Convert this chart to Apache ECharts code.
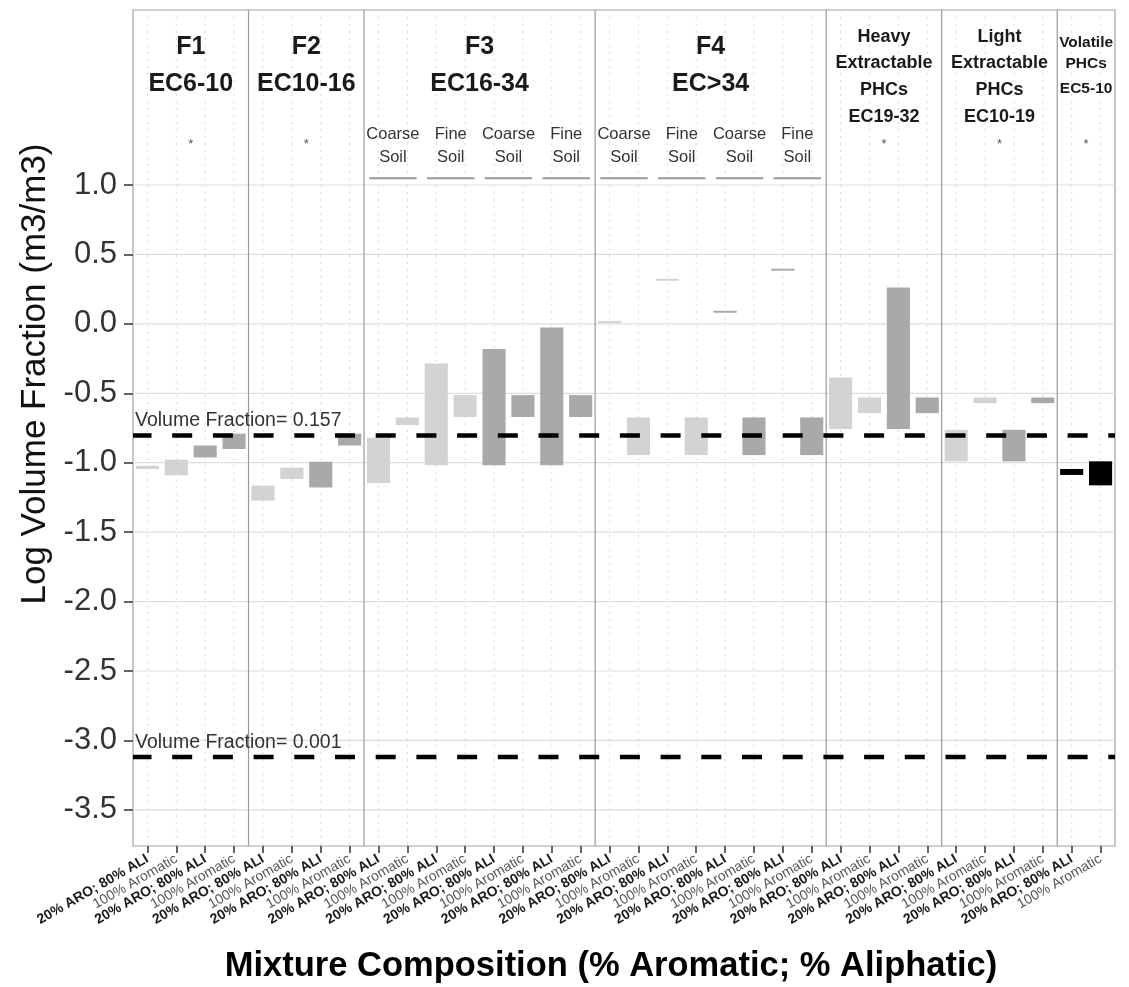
<!DOCTYPE html>
<html>
<head>
<meta charset="utf-8">
<script src="https://cdn.jsdelivr.net/npm/echarts@6/dist/echarts.min.js"></script>
<style>
html,body{margin:0;padding:0;background:#fff;}
#chart{width:1129px;height:987px;}
</style>
</head>
<body>
<div id="chart"></div>
<script>
// ---------------- DATA ----------------
const categories = [
  '20% ARO; 80% ALI','100% Aromatic','20% ARO; 80% ALI','100% Aromatic',
  '20% ARO; 80% ALI','100% Aromatic','20% ARO; 80% ALI','100% Aromatic',
  '20% ARO; 80% ALI','100% Aromatic','20% ARO; 80% ALI','100% Aromatic',
  '20% ARO; 80% ALI','100% Aromatic','20% ARO; 80% ALI','100% Aromatic',
  '20% ARO; 80% ALI','100% Aromatic','20% ARO; 80% ALI','100% Aromatic',
  '20% ARO; 80% ALI','100% Aromatic','20% ARO; 80% ALI','100% Aromatic',
  '20% ARO; 80% ALI','100% Aromatic','20% ARO; 80% ALI','100% Aromatic',
  '20% ARO; 80% ALI','100% Aromatic','20% ARO; 80% ALI','100% Aromatic',
  '20% ARO; 80% ALI','100% Aromatic'
];
// lower and upper ends of each floating bar (log10 volume fraction)
const barLow = [
  -1.045, -1.091, -0.962, -0.901,
  -1.273, -1.117, -1.178, -0.876,
  -1.146, -0.729, -1.019, -0.671, -1.019, -0.671, -1.019, -0.671,
   0.007, -0.945,  0.310, -0.945,  0.080, -0.945,  0.383, -0.945,
  -0.758, -0.643, -0.758, -0.643,
  -0.990, -0.571, -0.990, -0.571,
  -1.088, -1.163
];
const barHigh = [
  -1.022, -0.978, -0.876, -0.791,
  -1.165, -1.036, -0.993, -0.791,
  -0.820, -0.674, -0.286, -0.513, -0.182, -0.513, -0.027, -0.513,
   0.021, -0.674,  0.324, -0.674,  0.094, -0.674,  0.397, -0.674,
  -0.386, -0.530,  0.261, -0.530,
  -0.763, -0.530, -0.763, -0.530,
  -1.045, -0.990
];
const barGroup = [
  'A','A','B','B',
  'A','A','B','B',
  'A','A','A','A','B','B','B','B',
  'A','A','A','A','B','B','B','B',
  'A','A','B','B',
  'A','A','B','B',
  'V','V'
];
const panelTitles = [
  ['F1','EC6-10'],
  ['F2','EC10-16'],
  ['F3','EC16-34'],
  ['F4','EC>34'],
  ['Heavy','Extractable','PHCs','EC19-32'],
  ['Light','Extractable','PHCs','EC10-19'],
  ['Volatile','PHCs','EC5-10']
];
const panelSizes = [4, 4, 8, 8, 4, 4, 2];
const soilStart = [8, 10, 12, 14, 16, 18, 20, 22];
const soilNames = ['Coarse','Fine','Coarse','Fine','Coarse','Fine','Coarse','Fine'];
const yTicks = [-3.5, -3.0, -2.5, -2.0, -1.5, -1.0, -0.5, 0.0, 0.5, 1.0];
const refValues = [-0.804, -3.12];
const refLabels = ['Volume Fraction= 0.157', 'Volume Fraction= 0.001'];

// ---------------- STYLE / BUILD ----------------
const FONT = '"Liberation Sans", Arial, Helvetica, sans-serif';
const groupColor = { A: '#d3d3d3', B: '#a9a9a9', V: '#000000' };
const Y_MIN = -3.76, Y_MAX = 2.26;

const panelRanges = [];
{
  let s = 0;
  panelSizes.forEach(n => { panelRanges.push([s, s + n - 1]); s += n; });
}
const panelHasSoil = panelRanges.map(r => soilStart.some(s => s >= r[0] && s <= r[1]));

const chart = echarts.init(document.getElementById('chart'), null, { renderer: 'canvas' });

function bandW(api) { return api.size([1, 0])[0]; }

const titleLayouts = {
  2: { size: 25, ys: [37, 74] },
  4: { size: 18, ys: [27, 53, 80.5, 107] },
  3: { size: 15.5, ys: [33, 53.5, 79] }
};

const option = {
  animation: false,
  backgroundColor: '#ffffff',
  grid: {
    left: 133, right: 14, top: 10, bottom: 141,
    show: true, borderColor: '#a3a3a3', borderWidth: 1.2, backgroundColor: '#ffffff'
  },
  xAxis: {
    type: 'category',
    data: categories,
    boundaryGap: true,
    axisLine: { show: false, onZero: false },
    splitLine: { show: false },
    axisTick: { show: true, alignWithLabel: true, interval: 0, length: 7, lineStyle: { color: '#333', width: 1.5 } },
    axisLabel: {
      interval: 0,
      rotate: 30,
      margin: 12,
      formatter: function (v) {
        return v.indexOf('ARO;') >= 0 ? '{b|' + v + '}' : '{n|' + v + '}';
      },
      rich: {
        b: { fontFamily: FONT, fontSize: 14, fontWeight: 'bold', color: '#1a1a1a' },
        n: { fontFamily: FONT, fontSize: 14, fontWeight: 'normal', color: '#555555' }
      }
    }
  },
  yAxis: {
    type: 'value',
    min: Y_MIN,
    max: Y_MAX,
    axisLine: { show: false },
    splitLine: { show: false },
    axisTick: { show: true, length: 9, lineStyle: { color: '#333', width: 1.5 }, customValues: yTicks },
    axisLabel: {
      customValues: yTicks,
      formatter: function (v) { return Number(v).toFixed(1); },
      fontFamily: FONT, fontSize: 31, color: '#333', margin: 16
    }
  },
  graphic: [
    {
      type: 'text', x: 35, y: 374, rotation: Math.PI / 2,
      style: { text: 'Log Volume Fraction (m3/m3)', fontFamily: FONT, fontSize: 35, fill: '#111', align: 'center', verticalAlign: 'middle' }
    },
    {
      type: 'text', x: 611, y: 966,
      style: { text: 'Mixture Composition (% Aromatic; % Aliphatic)', fontFamily: FONT, fontSize: 34.5, fontWeight: 'bold', fill: '#000', align: 'center', verticalAlign: 'middle' }
    }
  ],
  series: [
    // horizontal major gridlines
    {
      type: 'custom', z: 1, silent: true,
      data: yTicks.map(v => [0, v]),
      renderItem: function (params, api) {
        const cs = params.coordSys;
        const y = api.coord([0, api.value(1)])[1];
        return { type: 'line', shape: { x1: cs.x, y1: y, x2: cs.x + cs.width, y2: y }, style: { stroke: '#dedede', lineWidth: 1.2 } };
      }
    },
    // vertical dotted gridlines at each category
    {
      type: 'custom', z: 1, silent: true,
      data: categories.map((c, i) => [i, 0]),
      renderItem: function (params, api) {
        const cs = params.coordSys;
        const x = api.coord([api.value(0), 0])[0];
        return { type: 'line', shape: { x1: x, y1: cs.y, x2: x, y2: cs.y + cs.height }, style: { stroke: '#d8d8d8', lineWidth: 1, lineDash: [2, 5] } };
      }
    },
    // floating bars
    {
      type: 'custom', z: 3, silent: true,
      data: categories.map((c, i) => [i, barLow[i], barHigh[i]]),
      encode: { x: 0, y: [1, 2] },
      renderItem: function (params, api) {
        const i = api.value(0);
        const top = api.coord([i, api.value(2)]);
        const bot = api.coord([i, api.value(1)]);
        const w = bandW(api) * 0.8;
        return {
          type: 'rect',
          shape: { x: top[0] - w / 2, y: top[1], width: w, height: Math.max(bot[1] - top[1], 1.5) },
          style: { fill: groupColor[barGroup[params.dataIndex]] }
        };
      }
    },
    // panel dividers, strip titles and '*'
    {
      type: 'custom', z: 4, silent: true,
      data: panelRanges,
      renderItem: function (params, api) {
        const cs = params.coordSys;
        const s = api.value(0), e = api.value(1);
        const bw = bandW(api);
        const xs = api.coord([s, 0])[0];
        const xe = api.coord([e, 0])[0];
        const cx = (xs + xe) / 2;
        const children = [];
        if (s > 0) {
          const xl = xs - bw / 2;
          children.push({ type: 'line', shape: { x1: xl, y1: cs.y, x2: xl, y2: cs.y + cs.height }, style: { stroke: '#9a9a9a', lineWidth: 1.2 } });
        }
        const lines = panelTitles[params.dataIndex];
        const lay = titleLayouts[lines.length];
        lines.forEach((t, k) => {
          children.push({
            type: 'text', x: cx, y: cs.y + lay.ys[k],
            style: { text: t, fontFamily: FONT, fontSize: lay.size, fontWeight: 'bold', fill: '#1a1a1a', align: 'center', verticalAlign: 'middle' }
          });
        });
        if (!panelHasSoil[params.dataIndex]) {
          children.push({
            type: 'text', x: cx, y: cs.y + 134,
            style: { text: '*', fontFamily: FONT, fontSize: 13, fill: '#555', align: 'center', verticalAlign: 'middle' }
          });
        }
        return { type: 'group', children: children };
      }
    },
    // soil sub-labels with underline
    {
      type: 'custom', z: 4, silent: true,
      data: soilStart.map(s => [s, s + 1]),
      renderItem: function (params, api) {
        const cs = params.coordSys;
        const bw = bandW(api);
        const x0 = api.coord([api.value(0), 0])[0];
        const x1 = api.coord([api.value(1), 0])[0];
        const cx = (x0 + x1) / 2;
        const half = bw * 0.82;
        const name = soilNames[params.dataIndex];
        return {
          type: 'group',
          children: [
            { type: 'text', x: cx, y: cs.y + 124, style: { text: name, fontFamily: FONT, fontSize: 16.5, fill: '#333', align: 'center', verticalAlign: 'middle' } },
            { type: 'text', x: cx, y: cs.y + 147, style: { text: 'Soil', fontFamily: FONT, fontSize: 16.5, fill: '#333', align: 'center', verticalAlign: 'middle' } },
            { type: 'line', shape: { x1: cx - half, y1: cs.y + 168.3, x2: cx + half, y2: cs.y + 168.3 }, style: { stroke: '#999', lineWidth: 2 } }
          ]
        };
      }
    },
    // reference dashed lines with labels
    {
      type: 'custom', z: 6, silent: true,
      data: refValues.map(v => [0, v]),
      renderItem: function (params, api) {
        const cs = params.coordSys;
        const y = api.coord([0, api.value(1)])[1];
        return {
          type: 'group',
          children: [
            { type: 'line', shape: { x1: cs.x, y1: y, x2: cs.x + cs.width, y2: y },
              style: { stroke: '#000', lineWidth: 4.5, lineDash: [20, 20.7], lineDashOffset: 1.5 } },
            { type: 'text', x: cs.x + 2, y: y - 14.5,
              style: { text: refLabels[params.dataIndex], fontFamily: FONT, fontSize: 19.5, fill: '#333', align: 'left', verticalAlign: 'middle' } }
          ]
        };
      }
    }
  ]
};

chart.setOption(option);
</script>
</body>
</html>
